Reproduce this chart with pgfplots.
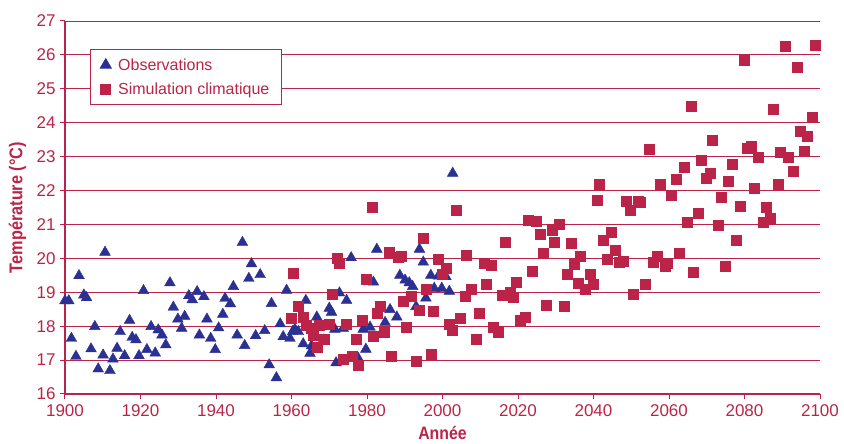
\documentclass[border=0pt]{standalone}
\usepackage{fontspec}
\setmainfont{Liberation Sans}
\newfontfamily\labfont[FakeStretch=0.88]{Liberation Sans}
\usepackage{pgfplots}
\pgfplotsset{compat=1.18}
\definecolor{crim}{RGB}{187,36,72}
\definecolor{navy}{RGB}{43,49,146}

\begin{document}
\begin{tikzpicture}
\begin{axis}[
  name=ax,
  scale only axis,
  width=755pt, height=373pt,
  xmin=1900, xmax=2100, ymin=16, ymax=27,
  xtick={1900,1920,...,2100},
  ytick={16,17,...,27},
  axis x line=bottom, axis y line=left,
  axis line style={crim, line width=1.1pt, -},
  ymajorgrids,
  grid style={crim, line width=0.9pt},
  tick style={crim, line width=1pt},
  tick align=outside,
  major tick length=5pt,
  ticklabel style={font=\fontsize{17}{20}\selectfont, text=crim},
  /pgf/number format/assume math mode=true,
  /pgf/number format/1000 sep={},
  xticklabel style={yshift=-2pt},
  yticklabel style={xshift=-1pt},
  xlabel={\labfont\bfseries Année},
  ylabel={\labfont\bfseries Température (°C)},
  xlabel style={at={(axis description cs:0.5,-0.105)}, anchor=center, text=crim, font=\fontsize{18}{21}\selectfont},
  ylabel style={at={(axis description cs:-0.063,0.5)}, anchor=center, text=crim, font=\fontsize{18.5}{21}\selectfont},
  legend style={at={(axis description cs:0.033,0.925)}, anchor=north west,
    draw=crim, line width=1pt, fill=white, text=crim,
    font=\fontsize{16}{19}\selectfont, inner xsep=10pt, inner ysep=7pt,
    row sep=7pt},
  legend cell align=left,
  clip=false,
]
\addplot[only marks, mark=triangle*, mark size=6.2pt, color=navy, mark options={draw=navy, fill=navy}] table {
x y
1900.0 18.75
1901.0 18.75
1901.7 17.64
1902.9 17.11
1903.7 19.49
1905.0 18.92
1905.7 18.84
1906.9 17.33
1907.9 17.99
1908.8 16.74
1910.1 17.15
1910.6 20.18
1911.9 16.69
1912.7 17.03
1913.8 17.35
1914.6 17.84
1915.8 17.13
1917.1 18.17
1917.8 17.67
1918.8 17.60
1919.6 17.13
1920.8 19.05
1921.7 17.31
1922.8 17.99
1923.9 17.21
1924.7 17.89
1925.7 17.74
1926.7 17.45
1927.8 19.28
1928.7 18.56
1929.9 18.21
1930.9 17.94
1931.7 18.29
1932.8 18.90
1933.7 18.78
1935.0 19.02
1935.6 17.74
1936.8 18.87
1937.6 18.21
1938.6 17.64
1939.8 17.31
1940.7 17.95
1941.8 18.35
1942.4 18.82
1943.8 18.66
1944.6 19.17
1945.6 17.74
1947.0 20.47
1947.6 17.43
1948.7 19.41
1949.4 19.84
1950.5 17.72
1951.7 19.52
1952.9 17.87
1954.1 16.86
1954.7 18.67
1956.0 16.48
1957.0 18.07
1957.8 17.69
1958.7 19.06
1959.6 17.64
1960.3 17.84
1960.9 17.91
1961.8 17.84
1963.1 17.48
1963.8 18.76
1964.9 17.20
1965.3 17.42
1966.7 18.27
1968.4 17.59
1970.0 18.53
1970.6 18.41
1971.5 17.91
1971.8 16.92
1972.7 18.98
1973.7 17.94
1974.6 18.76
1975.8 20.02
1977.7 17.05
1979.0 17.91
1979.7 17.32
1980.8 17.97
1981.7 19.30
1982.6 20.27
1984.8 18.11
1986.1 18.49
1987.9 18.27
1988.7 19.50
1990.1 19.36
1991.2 19.28
1992.1 19.17
1993.0 18.58
1993.9 20.27
1994.9 19.89
1995.6 18.83
1996.9 19.50
1997.8 19.12
1998.9 19.48
1999.8 19.12
2000.9 19.46
2001.8 19.03
2002.7 22.51
};
\addlegendentry{\hspace{5pt}Observations}
\addplot[only marks, mark=square*, mark size=5pt, color=crim, mark options={draw=crim, fill=crim}] table {
x y
1959.8 18.24
1960.5 19.57
1961.8 18.60
1963.0 18.27
1964.0 18.04
1965.3 17.94
1965.8 17.74
1966.7 17.38
1967.4 18.04
1968.7 17.61
1970.0 18.07
1970.9 18.93
1972.0 20.00
1972.7 19.85
1973.7 17.02
1974.6 18.07
1976.0 17.10
1977.1 17.61
1977.7 16.85
1978.8 18.19
1979.7 19.40
1981.3 21.51
1981.7 17.70
1982.7 18.39
1983.4 18.60
1984.5 17.81
1985.9 20.19
1986.5 17.10
1988.3 20.02
1989.0 20.06
1989.6 18.73
1990.5 17.97
1991.8 18.88
1993.0 16.98
1993.9 18.47
1994.8 20.60
1995.6 19.08
1996.9 17.18
1997.6 18.44
1998.9 19.97
1999.8 19.52
2000.9 19.72
2001.8 18.07
2002.7 17.87
2003.7 21.41
2004.6 18.24
2006.0 18.88
2006.4 20.09
2007.7 19.08
2009.0 17.62
2009.7 18.39
2011.1 19.85
2011.7 19.23
2012.8 19.79
2013.5 17.97
2014.8 17.81
2015.8 18.90
2016.7 20.49
2017.9 19.00
2018.8 18.86
2019.6 19.31
2020.5 18.19
2021.8 18.27
2022.8 21.13
2023.8 19.62
2024.9 21.11
2025.8 20.72
2026.7 20.15
2027.6 18.61
2029.1 20.84
2029.5 20.47
2030.8 21.00
2032.2 18.59
2032.9 19.54
2034.1 20.46
2034.8 19.82
2035.9 19.28
2036.6 20.05
2037.9 19.10
2039.1 19.54
2040.0 19.25
2041.0 21.72
2041.5 22.18
2042.5 20.54
2043.6 19.98
2044.8 20.77
2045.7 20.23
2046.8 19.90
2047.9 19.93
2048.6 21.68
2049.8 21.41
2050.5 18.95
2051.9 21.68
2052.5 21.65
2053.7 19.24
2054.8 23.21
2055.7 19.90
2056.9 20.05
2057.8 22.18
2058.9 19.77
2059.5 19.86
2060.7 21.85
2062.0 22.34
2062.7 20.16
2064.0 22.70
2064.7 21.08
2065.8 24.49
2066.4 19.59
2067.7 21.34
2068.5 22.90
2069.8 22.37
2070.8 22.52
2071.5 23.47
2072.9 20.99
2073.7 21.80
2074.9 19.76
2075.7 22.29
2076.8 22.78
2077.8 20.54
2078.8 21.55
2079.8 25.85
2080.8 23.25
2081.9 23.31
2082.6 22.07
2083.7 22.98
2084.9 21.08
2085.7 21.50
2086.9 21.18
2087.6 24.39
2088.9 22.18
2089.5 23.13
2090.9 26.25
2091.5 22.98
2092.9 22.56
2093.9 25.63
2094.7 23.74
2095.7 23.17
2096.6 23.60
2097.8 24.16
2098.7 26.29
};
\addlegendentry{\hspace{5pt}Simulation climatique}
\end{axis}
\pgfresetboundingbox
\path[use as bounding box] ([xshift=-65pt,yshift=-50pt]ax.south west) rectangle ([xshift=24pt,yshift=21pt]ax.north east);
\end{tikzpicture}
\end{document}
